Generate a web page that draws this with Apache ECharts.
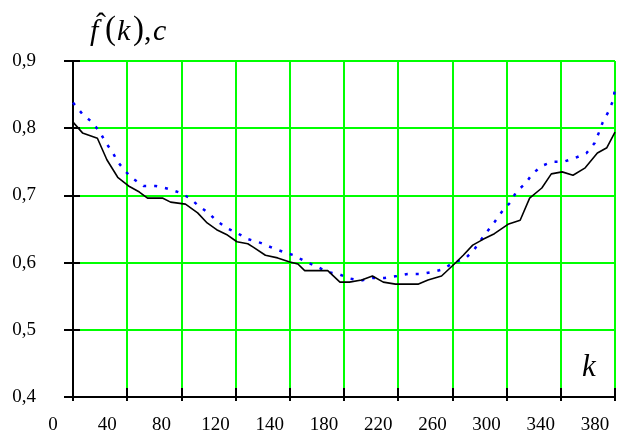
<!DOCTYPE html>
<html>
<head>
<meta charset="utf-8">
<script src="https://cdn.jsdelivr.net/npm/echarts@6/dist/echarts.min.js"></script>
<style>html,body{margin:0;padding:0;background:#fff;}#c{width:617px;height:439px;}</style>
</head>
<body>
<div id="c"></div>
<script>
// x tick labels as printed in the original (0..400 range, step 40)
const xTickLabels = ['0','40','80','120','140','180','220','260','300','340','380'];
// black solid series f^(k)
const kBlack = [0,7,18,25,33,41,49,55,66,72,83,92,99,106,114,121,129,133,142,151,160,166,171,188,197,204,213,221,229,238,255,262,272,282,288,295,303,311,321,330,337,346,353,361,369,378,387,394,400];
const fBlack = [0.809,0.793,0.785,0.753,0.727,0.714,0.705,0.696,0.696,0.690,0.687,0.674,0.659,0.649,0.641,0.631,0.628,0.623,0.611,0.607,0.601,0.598,0.588,0.588,0.571,0.571,0.574,0.580,0.571,0.568,0.568,0.574,0.580,0.599,0.611,0.626,0.635,0.643,0.657,0.663,0.696,0.711,0.732,0.735,0.730,0.741,0.763,0.771,0.794];
// blue dotted series c
const kBlue = [0,7,14,20,24,29,33,39,45,52,61,70,79,86,93,100,106,114,122,129,139,147,155,163,171,179,188,196,203,212,221,230,239,247,257,265,273,280,290,296,300,306,311,317,323,327,334,339,346,354,362,371,379,385,388,391,395,399,400];
const cBlue = [0.838,0.821,0.809,0.794,0.779,0.765,0.750,0.735,0.724,0.714,0.714,0.710,0.704,0.696,0.684,0.674,0.662,0.651,0.643,0.635,0.629,0.622,0.616,0.611,0.602,0.595,0.586,0.583,0.577,0.573,0.577,0.577,0.580,0.583,0.583,0.586,0.590,0.599,0.607,0.619,0.631,0.647,0.660,0.677,0.690,0.705,0.718,0.732,0.744,0.750,0.750,0.756,0.763,0.778,0.793,0.809,0.824,0.843,0.861];

const serif = '"Liberation Serif","Times New Roman",serif';
const chart = echarts.init(document.getElementById('c'), null, {renderer:'canvas'});
const zip = (a,b)=>a.map((v,i)=>[v,b[i]]);
chart.setOption({
  animation:false,
  backgroundColor:'#fff',
  grid:{left:73,right:2,top:61,bottom:42},
  xAxis:[{
    type:'value',min:0,max:400,interval:40,
    axisLine:{show:true,onZero:false,lineStyle:{color:'#000',width:2}},
    axisTick:{show:true,inside:false,length:4,lineStyle:{color:'#000',width:2}},
    axisLabel:{fontFamily:serif,fontSize:19,color:'#000',margin:19,padding:[0,40,0,0],
      showMinLabel:true,showMaxLabel:true,
      formatter:v=>xTickLabels[Math.round(v/40)]||''},
    splitLine:{show:true,lineStyle:{color:'#00ff00',width:2}}
  },{
    type:'value',min:0,max:400,interval:40,position:'bottom',
    axisLine:{show:false},
    axisTick:{show:true,inside:true,length:9,lineStyle:{color:'#000',width:2}},
    axisLabel:{show:false},splitLine:{show:false}
  }],
  yAxis:[{
    type:'value',min:0.4,max:0.9,interval:0.1,
    axisLine:{show:true,onZero:false,lineStyle:{color:'#000',width:2}},
    axisTick:{show:true,inside:false,length:9,lineStyle:{color:'#000',width:2}},
    axisLabel:{fontFamily:serif,fontSize:19,color:'#000',margin:37,padding:[6,0,0,0],
      formatter:v=>v.toFixed(1).replace('.',',')},
    splitLine:{show:true,lineStyle:{color:'#00ff00',width:2}}
  },{
    type:'value',min:0.4,max:0.9,interval:0.1,position:'left',
    axisLine:{show:false},
    axisTick:{show:true,inside:true,length:7,lineStyle:{color:'#000',width:2}},
    axisLabel:{show:false},splitLine:{show:false}
  }],
  series:[{
    type:'line',data:zip(kBlue,cBlue),showSymbol:false,symbol:'none',
    lineStyle:{color:'#0000ff',width:2.5,type:[3,8]},z:3
  },{
    type:'line',data:zip(kBlack,fBlack),showSymbol:false,symbol:'none',
    lineStyle:{color:'#000',width:1.6},z:4
  }],
  graphic:[
    {type:'text',left:90,top:17,style:{text:'f',font:'italic 30px '+serif,fill:'#000'}},
    {type:'text',left:96,top:10,style:{text:'\u02C6',font:'30px '+serif,fill:'#000'}},
    {type:'text',left:105,top:14,style:{text:'(',font:'33px '+serif,fill:'#000'}},
    {type:'text',left:117,top:17,style:{text:'k',font:'italic 30px '+serif,fill:'#000'}},
    {type:'text',left:133,top:14,style:{text:')',font:'33px '+serif,fill:'#000'}},
    {type:'text',left:144,top:17,style:{text:',',font:'30px '+serif,fill:'#000'}},
    {type:'text',left:153,top:17,style:{text:'c',font:'italic 30px '+serif,fill:'#000'}},
    {type:'text',left:582,top:352,style:{text:'k',font:'italic 31px '+serif,fill:'#000'}}
  ]
});
</script>
</body>
</html>
